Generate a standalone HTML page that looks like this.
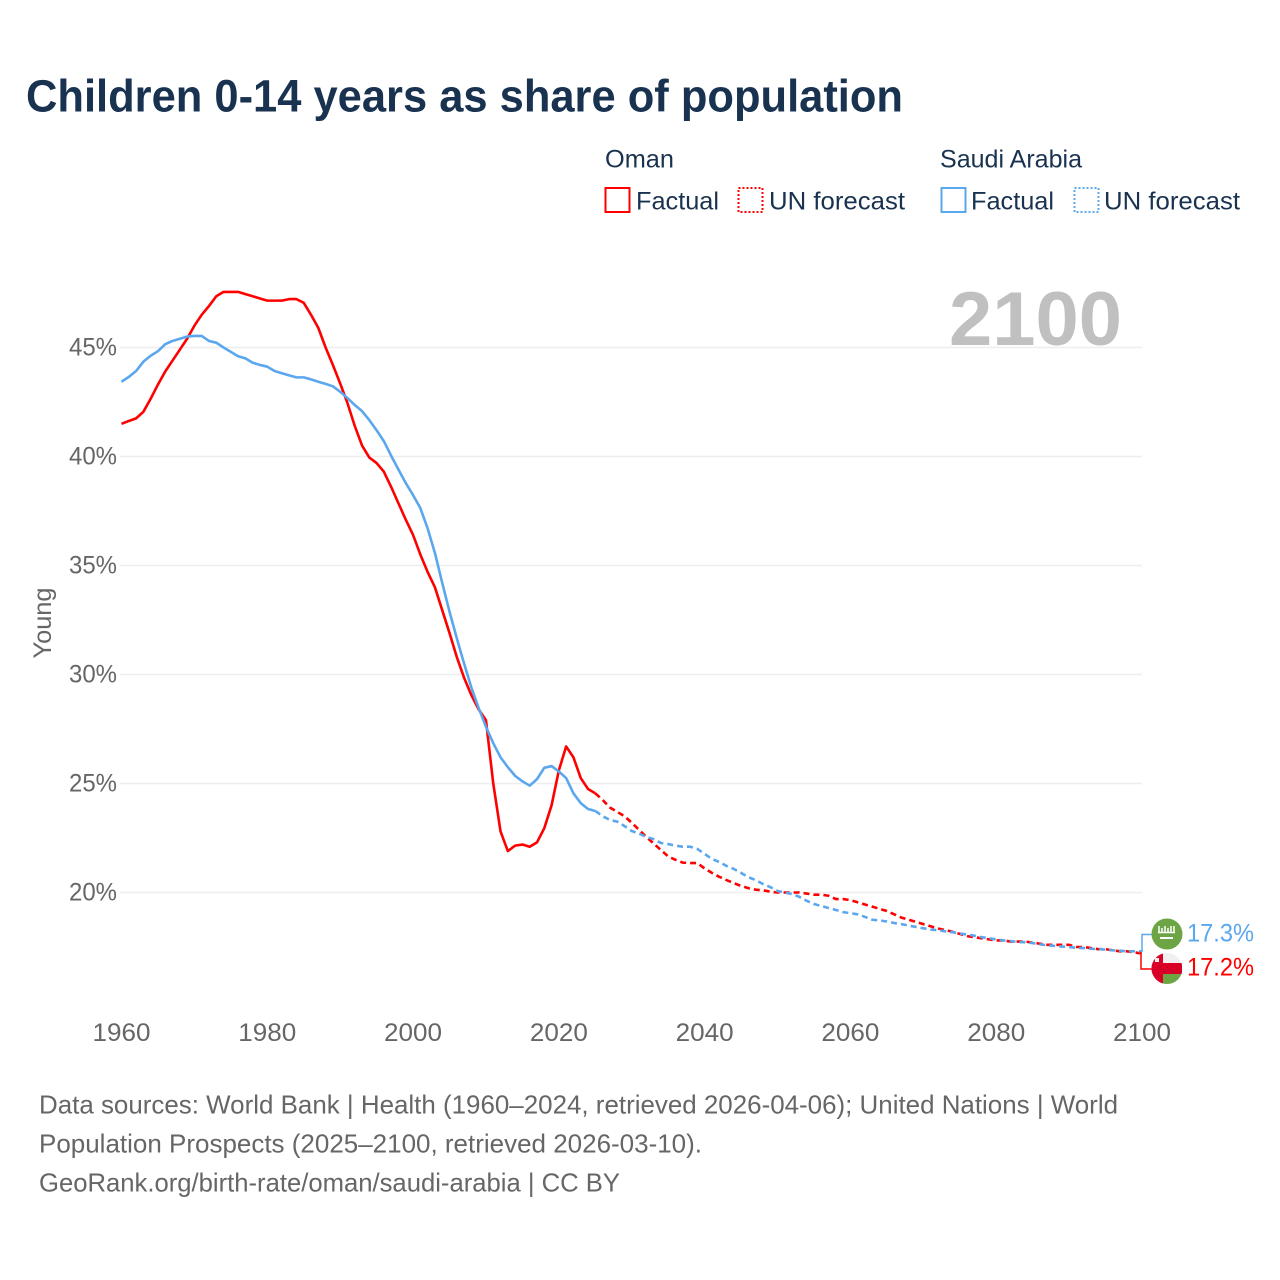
<!DOCTYPE html>
<html lang="en">
<head>
<meta charset="utf-8">
<title>Children 0-14 years as share of population</title>
<style>
html,body{margin:0;padding:0;background:#fff;}
svg{display:block;font-family:"Liberation Sans",sans-serif;}
</style>
</head>
<body>
<svg id="chart" width="1280" height="1280" viewBox="0 0 1280 1280" xmlns="http://www.w3.org/2000/svg">
  <text x="26" y="111.500" font-size="45" font-weight="700" fill="#18324f" textLength="877" lengthAdjust="spacingAndGlyphs">Children 0-14 years as share of population</text>

  <g font-size="25" fill="#18324f">
    <text x="605" y="167.500" textLength="69" lengthAdjust="spacingAndGlyphs">Oman</text>
    <text x="940" y="167.500" textLength="142" lengthAdjust="spacingAndGlyphs">Saudi Arabia</text>
    <rect x="605.5" y="188" width="24" height="24" fill="none" stroke="#ff0000" stroke-width="2"/>
    <text x="636" y="209.500" textLength="83" lengthAdjust="spacingAndGlyphs">Factual</text>
    <rect x="738.5" y="188" width="24" height="24" fill="none" stroke="#ff0000" stroke-width="2" stroke-dasharray="2 2"/>
    <text x="769" y="209.500" textLength="136" lengthAdjust="spacingAndGlyphs">UN forecast</text>
    <rect x="941.5" y="188" width="24" height="24" fill="none" stroke="#5ba7ee" stroke-width="2"/>
    <text x="971" y="209.500" textLength="83" lengthAdjust="spacingAndGlyphs">Factual</text>
    <rect x="1074.5" y="188" width="24" height="24" fill="none" stroke="#5ba7ee" stroke-width="2" stroke-dasharray="2 2"/>
    <text x="1104" y="209.500" textLength="136" lengthAdjust="spacingAndGlyphs">UN forecast</text>
  </g>

  <g id="grid"></g>
  <g id="yticks"></g>
  <g id="xticks"></g>
  <text transform="translate(51 623) rotate(-90)" text-anchor="middle" font-size="25" fill="#666" textLength="71" lengthAdjust="spacingAndGlyphs">Young</text>

  <text x="949" y="345" font-size="76" font-weight="700" fill="#c0c0c0" textLength="173" lengthAdjust="spacingAndGlyphs">2100</text>

  <g id="series"></g>

  <path d="M1142 952V934.5H1152" fill="none" stroke="#5ba7ee" stroke-width="1.5"/>
  <path d="M1141 952V969H1152" fill="none" stroke="#ff0000" stroke-width="1.5"/>

  <g>
    <circle cx="1167" cy="934" r="15.5" fill="#6da544"/>
    <path d="M1159 926v6M1162 928v4M1165 926v6M1168 928v4M1171 926v6M1174 926v6M1158 932.500H1175" stroke="#fff" stroke-width="1.500" fill="none"/>
    <rect x="1160" y="937" width="13" height="2" fill="#fff"/>
  </g>
  <g>
    <clipPath id="omanClip"><circle cx="1167" cy="968.500" r="15.500"/></clipPath>
    <g clip-path="url(#omanClip)">
      <rect x="1151" y="953" width="31" height="10" fill="#f0f0f0"/>
      <rect x="1151" y="963" width="31" height="11" fill="#d80027"/>
      <rect x="1163" y="974" width="19" height="10" fill="#6da544"/>
      <rect x="1151" y="953" width="12" height="31" fill="#d80027"/>
      <rect x="1155" y="958" width="4" height="4" fill="#f0f0f0"/>
    </g>
  </g>

  <text x="1187" y="941.500" font-size="25" fill="#5ba7ee" textLength="67" lengthAdjust="spacingAndGlyphs">17.3%</text>
  <text x="1187" y="975.500" font-size="25" fill="#ff0000" textLength="67" lengthAdjust="spacingAndGlyphs">17.2%</text>

  <g font-size="26" fill="#666">
    <text x="39" y="1113.500" textLength="1079" lengthAdjust="spacingAndGlyphs">Data sources: World Bank | Health (1960–2024, retrieved 2026-04-06); United Nations | World</text>
    <text x="39" y="1152.500" textLength="663" lengthAdjust="spacingAndGlyphs">Population Prospects (2025–2100, retrieved 2026-03-10).</text>
    <text x="39" y="1191.500" textLength="581" lengthAdjust="spacingAndGlyphs">GeoRank.org/birth-rate/oman/saudi-arabia | CC BY</text>
  </g>
</svg>

<script>
const firstYear = 1960;
const lastFactualYear = 2025;
const xTickLabels = [1960, 1980, 2000, 2020, 2040, 2060, 2080, 2100];
const yTickLabels = [20, 25, 30, 35, 40, 45];

const omanValues = [
  41.5, 41.63, 41.75, 42.05, 42.65, 43.3, 43.9, 44.4, 44.9, 45.4,
  46.0, 46.5, 46.9, 47.35, 47.55, 47.55, 47.55, 47.45, 47.35, 47.25,
  47.15, 47.15, 47.15, 47.22, 47.22, 47.05, 46.5, 45.9, 45.0, 44.2,
  43.35, 42.45, 41.4, 40.5, 39.95, 39.7, 39.3, 38.6, 37.85, 37.1,
  36.4, 35.5, 34.7, 34.0, 32.95, 31.9, 30.8, 29.85, 29.05, 28.4,
  27.9, 25.0, 22.8, 21.9, 22.15, 22.2, 22.1, 22.3, 22.95, 24.0,
  25.6, 26.7, 26.2, 25.25, 24.75, 24.55, 24.25, 23.9, 23.7, 23.5,
  23.2, 22.87, 22.55, 22.25, 21.95, 21.65, 21.5, 21.37, 21.35, 21.35,
  21.1, 20.9, 20.72, 20.57, 20.43, 20.3, 20.2, 20.13, 20.1, 20.04,
  20.0, 20.0, 20.0, 20.0, 19.95, 19.9, 19.9, 19.85, 19.7, 19.7,
  19.65, 19.55, 19.45, 19.35, 19.25, 19.15, 19.0, 18.85, 18.75, 18.65,
  18.55, 18.45, 18.35, 18.28, 18.2, 18.1, 18.0, 17.95, 17.9, 17.85,
  17.8, 17.8, 17.75, 17.75, 17.75, 17.7, 17.65, 17.6, 17.6, 17.6,
  17.6, 17.5, 17.5, 17.45, 17.4, 17.4, 17.35, 17.3, 17.3, 17.25,
  17.2
];

const saudiValues = [
  43.43, 43.65, 43.92, 44.35, 44.62, 44.83, 45.15, 45.3, 45.4, 45.5,
  45.53, 45.53, 45.3, 45.22, 45.0, 44.8, 44.6, 44.5, 44.3, 44.2,
  44.12, 43.92, 43.82, 43.72, 43.63, 43.63, 43.54, 43.43, 43.33, 43.22,
  42.97, 42.68, 42.36, 42.08, 41.67, 41.2, 40.7, 40.03, 39.4, 38.78,
  38.23, 37.63, 36.7, 35.57, 34.2, 32.88, 31.66, 30.5, 29.4, 28.46,
  27.6, 26.85, 26.2, 25.75, 25.35, 25.1, 24.9, 25.2, 25.72, 25.8,
  25.55, 25.25, 24.55, 24.1, 23.83, 23.74, 23.5, 23.33, 23.25, 23.05,
  22.82, 22.7, 22.55, 22.45, 22.27, 22.22, 22.15, 22.1, 22.1, 22.0,
  21.77, 21.54, 21.4, 21.22, 21.08, 20.9, 20.7, 20.57, 20.39, 20.25,
  20.07, 20.0, 19.93, 19.8, 19.62, 19.47, 19.38, 19.29, 19.2, 19.1,
  19.05, 19.0, 18.88, 18.75, 18.72, 18.67, 18.6, 18.55, 18.48, 18.42,
  18.36, 18.3, 18.27, 18.22, 18.18, 18.12, 18.07, 18.02, 17.95, 17.9,
  17.85, 17.8, 17.77, 17.73, 17.72, 17.68, 17.62, 17.58, 17.55, 17.52,
  17.5, 17.46, 17.45, 17.42, 17.4, 17.38, 17.35, 17.33, 17.3, 17.3,
  17.3
];

const SVG_NS = 'http://www.w3.org/2000/svg';

function xScale(year) {
  return 121.5 + (year - 1960) * (1142 - 121.5) / 140;
}

function yScale(value) {
  return 892.5 - (value - 20) * 21.8;
}

function buildPath(values, fromYear, toYear) {
  let d = '';
  values.forEach(function (v, i) {
    const year = firstYear + i;
    if (year < fromYear || year > toYear) return;
    d += (d ? 'L' : 'M') + xScale(year).toFixed(2) + ' ' + yScale(v).toFixed(2);
  });
  return d;
}

const gridGroup = document.getElementById('grid');
const yTickGroup = document.getElementById('yticks');
yTickLabels.forEach(function (tick) {
  const line = document.createElementNS(SVG_NS, 'line');
  
  
  line.setAttribute('x1', 120);
  line.setAttribute('x2', 1142);
  line.setAttribute('y1', yScale(tick));
  line.setAttribute('y2', yScale(tick));
  line.setAttribute('stroke', '#eeeeee');
  line.setAttribute('stroke-width', '1.500');
  gridGroup.appendChild(line);

  const label = document.createElementNS(SVG_NS, 'text');
  
  
  label.setAttribute('x', 117);
  label.setAttribute('y', yScale(tick) + 8);
  label.setAttribute('text-anchor', 'end');
  label.setAttribute('font-size', '25');
  label.setAttribute('fill', '#666');
  label.setAttribute('textLength', '48');
  label.setAttribute('lengthAdjust', 'spacingAndGlyphs');
  label.textContent = tick + '%';
  yTickGroup.appendChild(label);
});

const xTickGroup = document.getElementById('xticks');
xTickLabels.forEach(function (tick) {
  const label = document.createElementNS(SVG_NS, 'text');
  
  
  label.setAttribute('x', xScale(tick));
  label.setAttribute('y', 1041);
  label.setAttribute('text-anchor', 'middle');
  label.setAttribute('font-size', '25');
  label.setAttribute('fill', '#666');
  label.setAttribute('textLength', '58');
  label.setAttribute('lengthAdjust', 'spacingAndGlyphs');
  label.textContent = tick;
  xTickGroup.appendChild(label);
});

const seriesGroup = document.getElementById('series');

function addLine(values, color, dashed, name) {
  const path = document.createElementNS(SVG_NS, 'path');
  
  
  const lastYear = firstYear + values.length - 1;
  path.setAttribute('d', dashed ? buildPath(values, lastFactualYear, lastYear) : buildPath(values, firstYear, lastFactualYear));
  path.setAttribute('fill', 'none');
  path.setAttribute('stroke', color);
  path.setAttribute('stroke-width', '2.6');
  path.setAttribute('stroke-linejoin', 'round');
  if (dashed) path.setAttribute('stroke-dasharray', '6 4');
  seriesGroup.appendChild(path);
}

addLine(omanValues, '#ff0000', false, 'oman-factual-line');
addLine(omanValues, '#ff0000', true, 'oman-forecast-line');
addLine(saudiValues, '#5ba7ee', false, 'saudi-factual-line');
addLine(saudiValues, '#5ba7ee', true, 'saudi-forecast-line');
</script>
</body>
</html>
